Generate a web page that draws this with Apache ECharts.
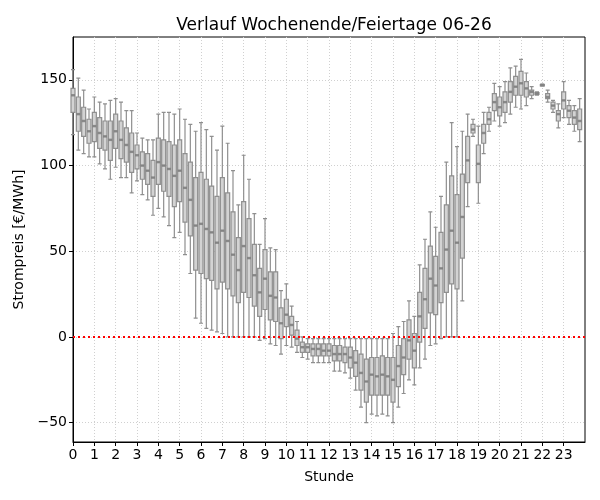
<!DOCTYPE html>
<html>
<head>
<meta charset="utf-8">
<title>Verlauf Wochenende/Feiertage 06-26</title>
<script src="https://cdn.jsdelivr.net/npm/echarts@6/dist/echarts.min.js"></script>
<style>
  body { margin: 0; background: #fff; }
  #main { width: 600px; height: 500px; }
</style>
</head>
<body>
<div id="main"></div>
<script>
// Stunden 0..23, je 4 Viertelstunden
var hours = [0, 1, 2, 3, 4, 5, 6, 7, 8, 9, 10, 11, 12, 13, 14, 15, 16, 17, 18, 19, 20, 21, 22, 23];
var quarters = [0, 0.25, 0.5, 0.75];
var yTicks = [-50, 0, 50, 100, 150];

// Boxplot-Werte pro Viertelstunde
var mins = [118, 109, 107, 105, 105, 101, 98, 92, 99, 93, 93, 84, 91, 83, 80, 71,
  75, 70, 65, 58, 61, 48, 37, 11, 8, 5, 4, 3, 2, 0, 0, 0,
  0, 0, 0, -2, -1, -4, -5, -10, -5, -6, -9, -12, -13, -15, -15, -15,
  -15, -20, -20, -21, -24, -31, -41, -50, -45, -46, -45, -46, -50, -41, -33, -25,
  -28, -18, -13, -5, -4, -1, 0, 0, 0, 21, 76, 117, 78, 107, 120, 126,
  123, 125, 130, 134, 133, 135, 139, 141, 146.3, 137, 131, 122, 128, 124, 120, 114];
var q1s = [131, 120, 117, 113, 114, 110, 109, 103, 110, 104, 102, 96, 98, 92, 89, 82,
  89, 85, 82, 76, 79, 67, 59, 39, 37, 34, 33, 28, 32, 28, 24, 20,
  26, 23, 18, 12, 16, 10, 9, -1, 6, 1, -5, -9, -9, -11, -11, -11,
  -11, -14, -14, -15, -18, -23, -31, -38, -34, -34, -34, -34, -38, -29, -22, -13,
  -18, -3, 5, 14, 13, 20, 26, 31, 28, 46, 90, 119, 90, 113, 124, 132,
  129, 131, 137, 141, 141, 140, 141, 141.5, 146.5, 139, 133, 126, 133, 128, 124, 121];
var medians = [141, 130, 126, 120, 123, 119, 117, 115, 120, 115, 112, 108, 106, 100, 97, 93,
  102, 100, 98, 94, 97, 87, 80, 65, 66, 63, 61, 55, 62, 56, 48, 39,
  53, 46, 36, 26, 34, 24, 23, 8, 13, 7, -1, -6, -6, -7, -7, -8,
  -8, -10, -10, -10, -12, -15, -21, -26, -22, -23, -22, -23, -25, -17, -12, -2,
  -8, 12, 22, 34, 30, 40, 51, 62, 55, 70, 103, 121, 101, 119, 127, 137,
  134, 137, 143, 146, 148, 145, 143, 142, 147, 140, 135, 130, 138, 132, 128, 126];
var q3s = [145, 140, 134, 127, 131, 128, 126, 126, 130, 126, 122, 119, 112, 108, 107, 103,
  116, 115, 114, 112, 115, 107, 102, 93, 96, 92, 88, 82, 93, 84, 73, 58,
  79, 69, 54, 40, 51, 38, 38, 17, 22, 12, 4, -3, -4, -4, -4, -4,
  -4, -5, -5, -6, -6, -8, -10, -13, -12, -12, -11, -12, -12, -5, -1, 10,
  2, 26, 40, 53, 47, 61, 77, 94, 83, 95, 117, 124, 112, 124, 131, 142,
  140, 143, 149, 152, 155, 149, 144, 142.5, 147.3, 142, 137, 132, 143, 135, 132, 133];
var maxs = [156, 151, 144, 133, 140, 137, 136, 138, 139, 137, 132, 132, 119, 116, 115, 115,
  130, 131, 131, 130, 133, 127, 124, 120, 125, 121, 117, 109, 123, 113, 97, 77,
  106, 92, 72, 54, 69, 52, 51, 27, 31, 18, 9, 0, -1, -1, -1, -1,
  -1, -1, -1, -1, -1, -1, -1, -1, -1, -1, -1, -1, 2, 6, 9, 21,
  12, 42, 57, 73, 64, 82, 102, 125, 111, 120, 130, 127, 123, 131, 134, 148,
  146, 149, 157, 158, 162, 154, 146, 143, 147.5, 144, 138, 136, 149, 138, 135, 139];

// Nulllinie (rot gepunktet)
var zeroLineX = [0, 24];
var zeroLineY = [0, 0];

// Daten zusammenbauen: [pos, min, Q1, median, Q3, max]
var boxData = [];
var medianData = [];
var k = 0;
for (let h of hours) {
  for (let q of quarters) {
    boxData.push([h + q, mins[k], q1s[k], medians[k], q3s[k], maxs[k]]);
    medianData.push([h + q, medians[k]]);
    k++;
  }
}
var zeroLine = zeroLineX.map(function (x, i) { return [x, zeroLineY[i]]; });

var fontName = 'DejaVu Sans';

var option = {
  animation: false,
  title: {
    text: 'Verlauf Wochenende/Feiertage 06-26',
    left: 329,
    top: 12,
    textAlign: 'center',
    textStyle: { fontFamily: fontName, fontSize: 17, fontWeight: 'normal', color: '#000' }
  },
  grid: {
    left: 73, right: 15, top: 37, bottom: 58,
    show: true, borderColor: '#000', borderWidth: 1, backgroundColor: 'transparent'
  },
  xAxis: {
    type: 'value',
    min: 0, max: 24, interval: 1,
    name: 'Stunde',
    nameLocation: 'middle',
    nameGap: 28,
    nameTextStyle: { fontFamily: fontName, fontSize: 14, color: '#000' },
    axisLine: { onZero: false, lineStyle: { color: '#000', width: 1 } },
    axisTick: { length: 4, lineStyle: { color: '#000' }, customValues: hours },
    axisLabel: { fontFamily: fontName, fontSize: 14, color: '#000', margin: 6, customValues: hours },
    splitLine: { show: true, lineStyle: { color: '#d0d0d0', type: [1, 2], width: 1 } }
  },
  yAxis: {
    type: 'value',
    min: -61.3, max: 175,
    minInterval: 50, maxInterval: 50,
    name: 'Strompreis [€/MWh]',
    nameLocation: 'middle',
    nameGap: 46,
    nameTextStyle: { fontFamily: fontName, fontSize: 14, color: '#000' },
    axisLine: { show: true, onZero: false, lineStyle: { color: '#000', width: 1 } },
    axisTick: { show: true, length: 4, lineStyle: { color: '#000' }, customValues: yTicks },
    axisLabel: {
      fontFamily: fontName, fontSize: 14, color: '#000', margin: 6, customValues: yTicks,
      formatter: function (v) { return String(v).replace('-', '\u2212'); }
    },
    splitLine: { show: true, lineStyle: { color: '#d0d0d0', type: [1, 2], width: 1 } }
  },
  series: [
    {
      name: 'Verteilung',
      type: 'boxplot',
      data: boxData,
      boxWidth: [4, 4],
      itemStyle: { color: '#d3d3d3', borderColor: '#8f8f8f', borderWidth: 1.2 },
      z: 2
    },
    {
      name: 'Median',
      type: 'scatter',
      data: medianData,
      symbol: 'rect',
      symbolSize: [4, 2.5],
      itemStyle: { color: '#7f7f7f' },
      z: 3
    },
    {
      name: 'Null',
      type: 'line',
      data: zeroLine,
      symbol: 'none',
      silent: true,
      lineStyle: { color: '#ff0000', type: [2, 3], width: 2, cap: 'butt' },
      z: 4
    }
  ]
};

var chart = echarts.init(document.getElementById('main'));
chart.setOption(option);
</script>
</body>
</html>
